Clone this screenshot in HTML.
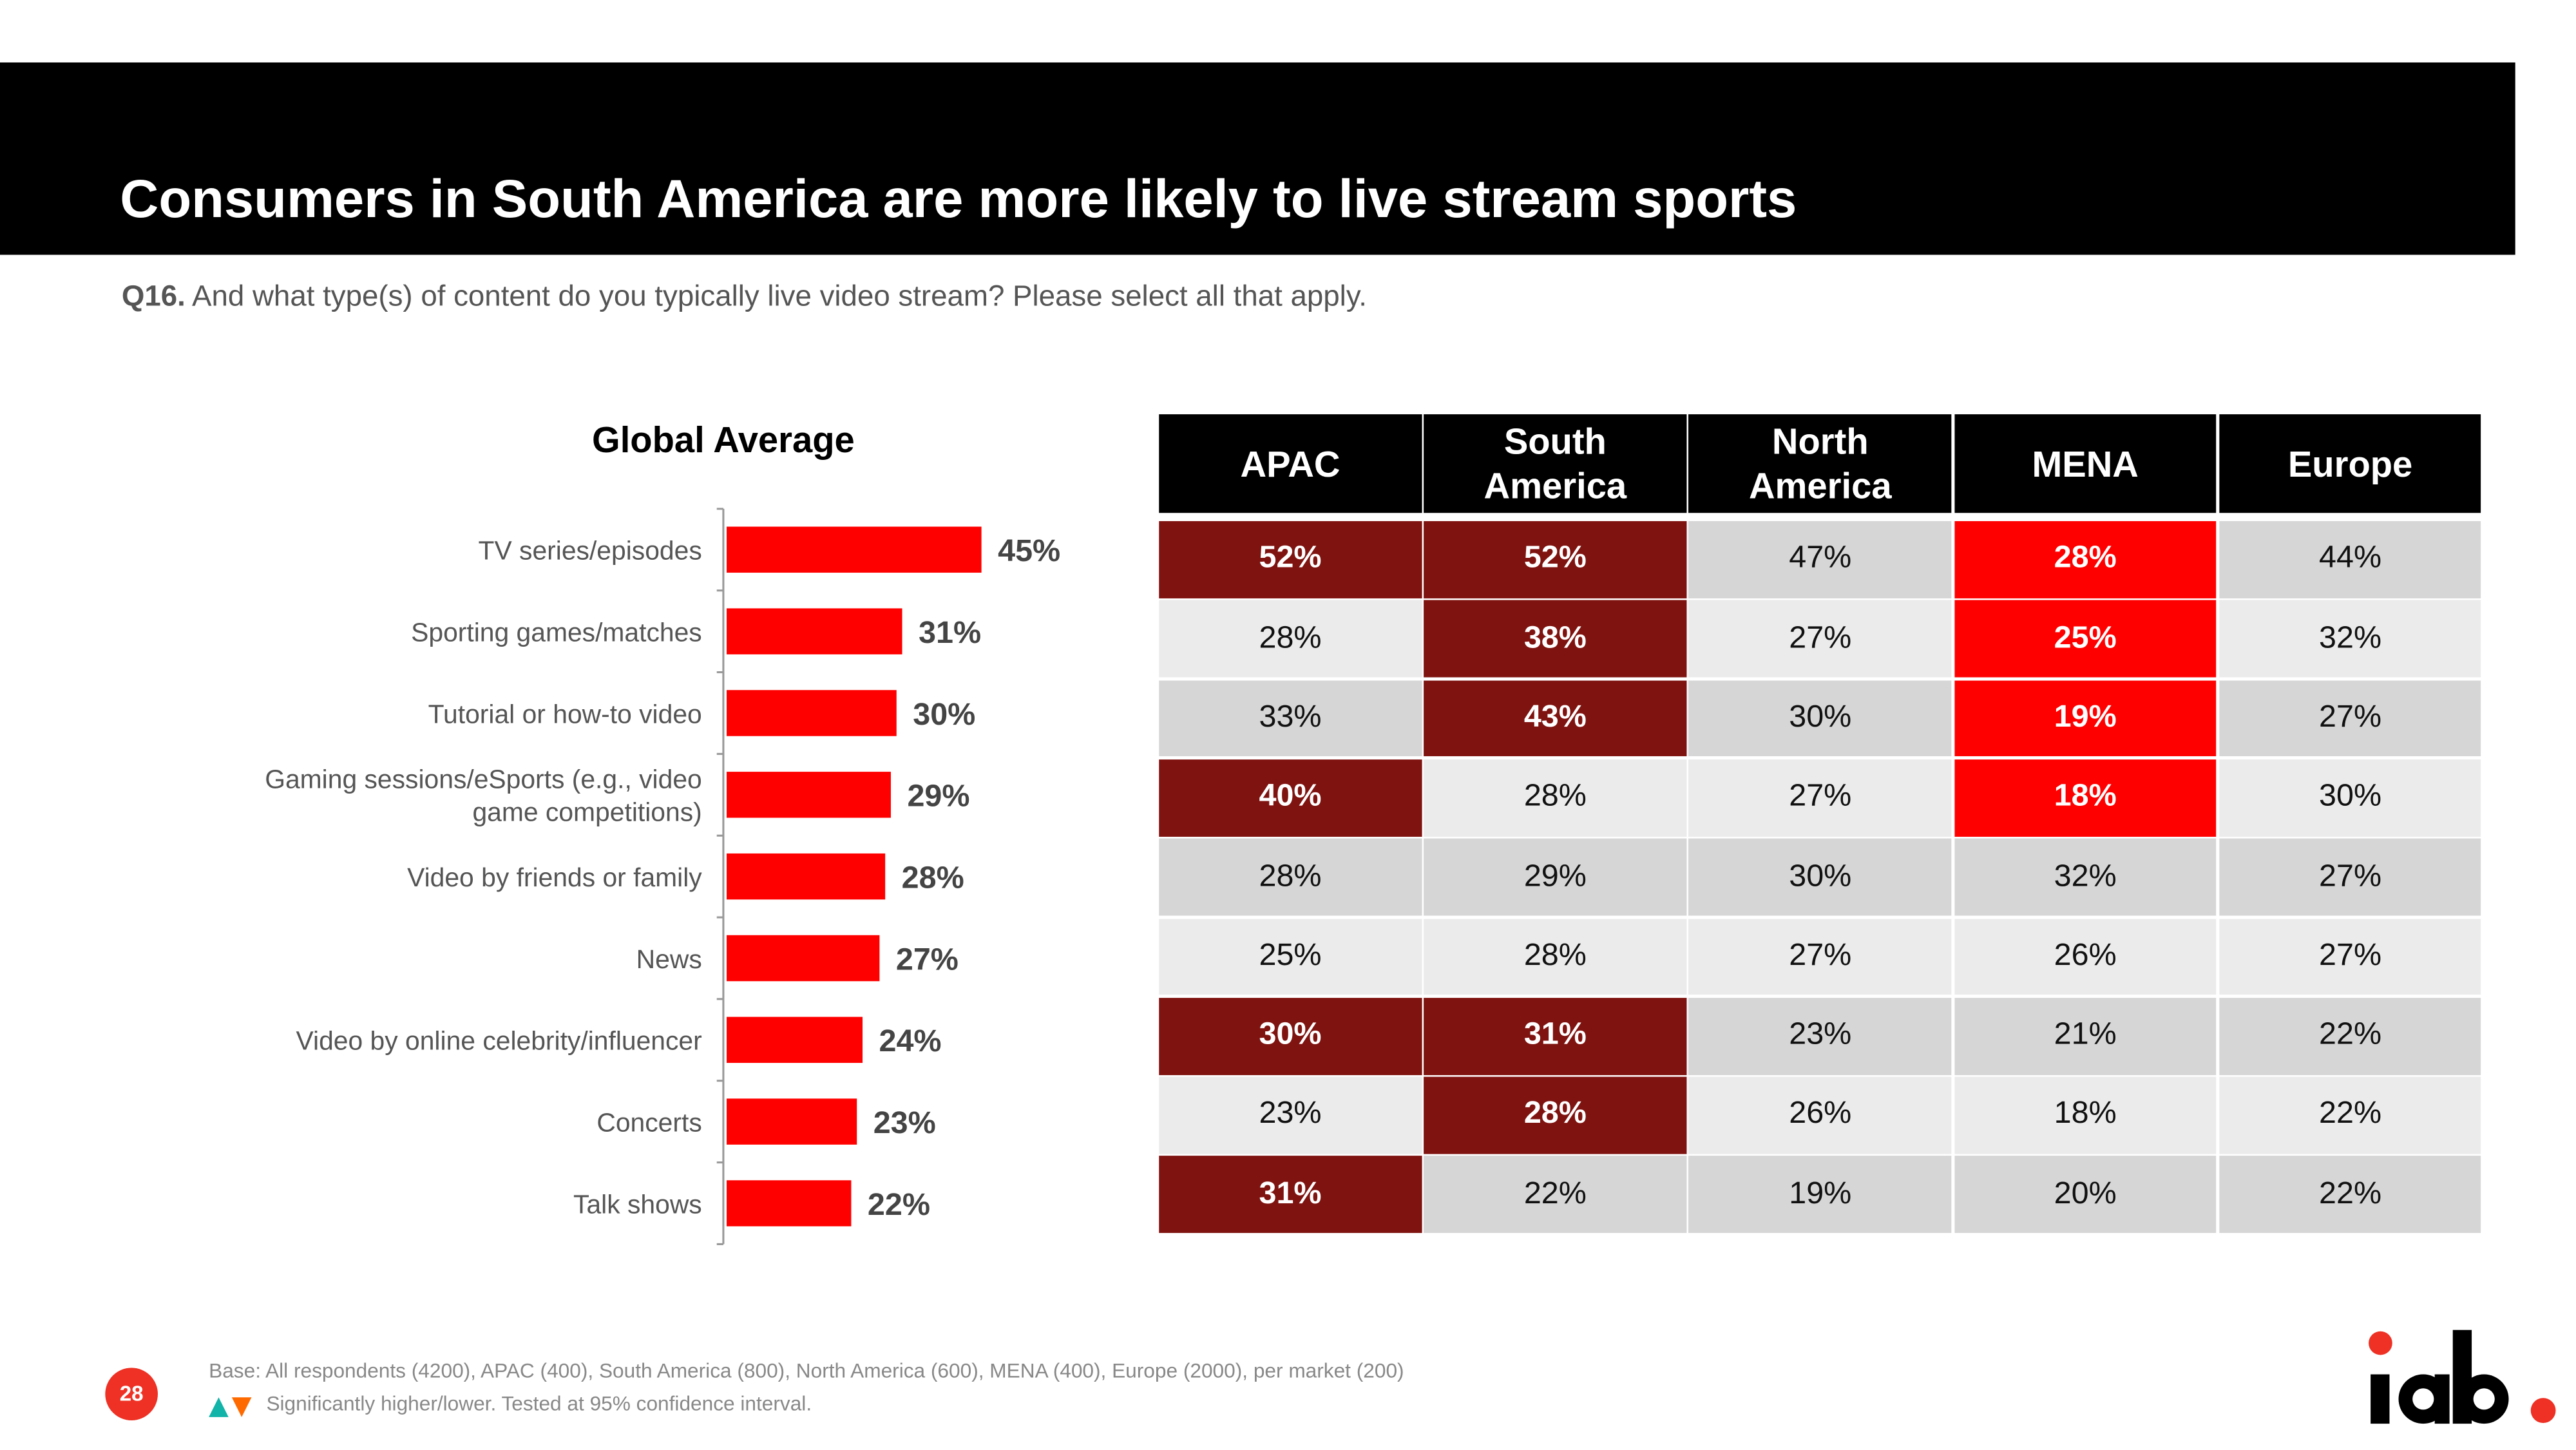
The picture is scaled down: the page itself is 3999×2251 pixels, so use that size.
<!DOCTYPE html>
<html><head><meta charset="utf-8">
<style>
html,body{margin:0;padding:0;background:#fff;}
body{width:3999px;height:2250px;overflow:hidden;position:relative;font-family:"Liberation Sans",Arial,sans-serif;}
#stage{position:absolute;left:0;top:0;width:1567px;height:882px;transform:scale(2.5521);transform-origin:0 0;}
.abs{position:absolute;}
</style></head>
<body>
<div id="stage">
  <div class="abs" style="left:0;top:38px;width:1530px;height:117px;background:#000;"></div>
  <div class="abs" style="left:73px;top:101px;color:#fff;font-size:32.6px;font-weight:bold;line-height:40px;white-space:nowrap;">Consumers in South America are more likely to live stream sports</div>
  <div class="abs" style="left:74px;top:170px;color:#555;font-size:17.9px;white-space:nowrap;"><b>Q16.</b> And what type(s) of content do you typically live video stream? Please select all that apply.</div>
  <div class="abs" style="left:340px;top:255px;width:200px;text-align:center;font-size:22px;font-weight:bold;color:#000;">Global Average</div>

  <svg class="abs" id="chart" style="left:0;top:300px;" width="700" height="470"></svg>
  <div class="abs" id="table" style="left:705px;top:252px;width:806px;height:500px;"></div>

  <div class="abs" style="left:64px;top:832px;width:32px;height:32px;border-radius:50%;background:#EE3124;color:#fff;font-size:13px;font-weight:bold;text-align:center;line-height:32px;">28</div>
  <div class="abs" style="left:127px;top:827px;color:#888;font-size:12.4px;white-space:nowrap;">Base: All respondents (4200), APAC (400), South America (800), North America (600), MENA (400), Europe (2000), per market (200)</div>
  <svg class="abs" style="left:127px;top:849px;" width="28" height="14">
    <polygon points="0,13 6,1 12,13" fill="#12B3A8"/><polygon points="14,1 26,1 20,13" fill="#FF6A00"/>
  </svg>
  <div class="abs" style="left:162px;top:847px;color:#888;font-size:12.4px;white-space:nowrap;">Significantly higher/lower. Tested at 95% confidence interval.</div>
  <svg class="abs" style="left:1435px;top:805px;" width="130" height="66">
    <circle cx="13" cy="12" r="7.2" fill="#EE3124"/>
    <rect x="7" y="31" width="11.5" height="30" fill="#000"/>
    <circle cx="39" cy="46" r="15" fill="#000"/><circle cx="39" cy="46" r="6.5" fill="#fff"/>
    <rect x="46" y="31" width="9" height="30" fill="#000"/>
    <rect x="57" y="4" width="11.5" height="57" fill="#000"/>
    <circle cx="76" cy="46" r="15" fill="#000"/><circle cx="76" cy="46" r="6.5" fill="#fff"/>
    <circle cx="112" cy="53" r="7.6" fill="#EE3124"/>
  </svg>
</div>
<script>
const categories = ["TV series/episodes","Sporting games/matches","Tutorial or how-to video","Gaming sessions/eSports (e.g., video|game competitions)","Video by friends or family","News","Video by online celebrity/influencer","Concerts","Talk shows"];
const globalValues = [45,31,30,29,28,27,24,23,22];
const regions = ["APAC","South|America","North|America","MENA","Europe"];
const apac = [52,28,33,40,28,25,30,23,31];
const southAmerica = [52,38,43,28,29,28,31,28,22];
const northAmerica = [47,27,30,27,30,27,23,26,19];
const mena = [28,25,19,18,32,26,21,18,20];
const europe = [44,32,27,30,27,27,22,22,22];
// highlight: 1 = dark red (significantly higher), 2 = bright red
const highlight = [
 [1,1,0,2,0],[0,1,0,2,0],[0,1,0,2,0],[1,0,0,2,0],[0,0,0,0,0],[0,0,0,0,0],[1,1,0,0,0],[0,1,0,0,0],[1,0,0,0,0]
];

const NS="http://www.w3.org/2000/svg";
const svg=document.getElementById('chart');
const x0=442, pxPer=155/45, y0=9.5, band=49.7, barH=28;
const xs=v=>v*pxPer;
const yc=i=>y0+band*(i+0.5);
function mk(t,a){const e=document.createElementNS(NS,t);for(const k in a)e.setAttribute(k,a[k]);svg.appendChild(e);return e;}
const ax=mk('line',{x1:440,x2:440,y1:y0,y2:y0+band*categories.length,stroke:'#999','stroke-width':1.2});


for(let i=0;i<=categories.length;i++){
  const t=mk('line',{x1:436,x2:440,y1:y0+band*i,y2:y0+band*i,stroke:'#999','stroke-width':1.2});
  
  
}
categories.forEach((c,i)=>{
  const r=mk('rect',{x:x0,y:yc(i)-barH/2,width:xs(globalValues[i]),height:barH,fill:'#FF0000'});
  
  
  const v=mk('text',{x:x0+xs(globalValues[i])+10,y:yc(i)+7,'font-size':19,'font-weight':'bold',fill:'#444','font-family':'Liberation Sans, sans-serif'});
  v.textContent=globalValues[i]+'%';
  
  
  const lines=c.split('|');
  const l=mk('text',{x:427,y:yc(i)+6-(lines.length-1)*10,'font-size':16,fill:'#555','text-anchor':'end','font-family':'Liberation Sans, sans-serif'});
  
  
  lines.forEach((s,k)=>{const ts=document.createElementNS(NS,'tspan');ts.setAttribute('x',427);if(k)ts.setAttribute('dy',20);ts.textContent=s;l.appendChild(ts);});
});

const tbl=document.getElementById('table');
const cols=[apac,southAmerica,northAmerica,mena,europe];
const colW=161.2, headH=60, rowTop=65, rowH=48.3;
regions.forEach((r,j)=>{
  const h=document.createElement('div');
  h.className='abs';
  
  
  h.style.cssText=`left:${j*colW}px;top:0;width:${colW-1.5}px;height:${headH}px;background:#000;color:#fff;font-size:22px;font-weight:bold;display:flex;align-items:center;justify-content:center;text-align:center;line-height:27px;`;
  h.innerHTML=r.replace('|','<br>');
  tbl.appendChild(h);
});
for(let i=0;i<categories.length;i++){
  const bg=i%2===0?'#D6D6D6':'#EBEBEB';
  cols.forEach((col,j)=>{
    const c=document.createElement('div');
    c.className='abs';
    
    
    const hl=highlight[i][j];
    const fill=hl===1?'#7F1310':hl===2?'#FF0000':bg;
    c.style.cssText=`left:${j*colW}px;top:${rowTop+i*rowH}px;width:${colW-1.5}px;height:${rowH-1.5}px;background:${fill};color:${hl?'#fff':'#111'};font-weight:${hl?'bold':'normal'};font-size:19px;display:flex;align-items:center;justify-content:center;`;
    c.textContent=col[i]+'%';
    tbl.appendChild(c);
  });
}
</script>
</body></html>
